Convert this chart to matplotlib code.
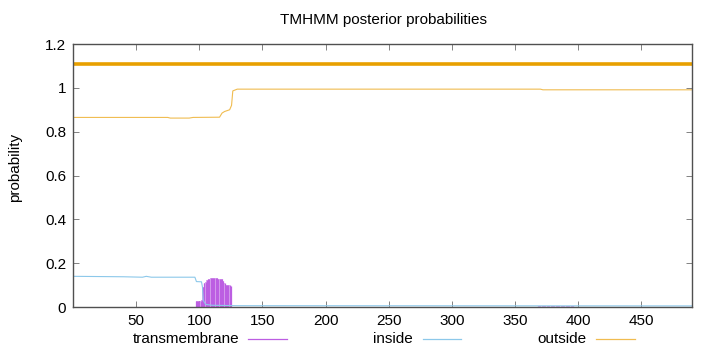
import matplotlib
matplotlib.use("Agg")
import matplotlib.pyplot as plt
from matplotlib.lines import Line2D

plt.rcParams['font.family'] = ['Liberation Sans', 'DejaVu Sans']
plt.rcParams['font.size'] = 11

## sequence length and predicted topology bar
seq_len = 490
topology_level = 1.11

## posterior probability curves (residue, probability)
outside_pos = [1, 75, 77, 92, 95, 116, 118, 120, 124, 125.5, 126.5, 130, 370, 372, 490]
outside_val = [0.865, 0.865, 0.862, 0.862, 0.865, 0.866, 0.885, 0.892, 0.9, 0.92, 0.986, 0.994, 0.994, 0.991, 0.991]

inside_pos = [1, 40, 55, 58, 62, 96.5, 97.7, 101.7, 102.5, 103.2, 105, 110, 130, 490]
inside_val = [0.14, 0.138, 0.136, 0.14, 0.136, 0.136, 0.116, 0.115, 0.09, 0.03, 0.012, 0.008, 0.006, 0.005]

tm_pos = list(range(97, 126))
tm_val = [0.027, 0.027, 0.027, 0.028, 0.028, 0.03, 0.09, 0.108, 0.115, 0.122, 0.127, 0.13, 0.131,
          0.131, 0.131, 0.131, 0.131, 0.131, 0.13, 0.13, 0.129, 0.127, 0.12, 0.11, 0.1, 0.1, 0.1,
          0.099, 0.097]
tm_low_pos = list(range(70, 96)) + list(range(368, 397))
tm_low_val = [0.002] * 26 + [0.004] * 29

c_tm = '#bc5ee2'
c_tm_fill = '#dcaaf0'
c_in = '#8cc8ea'
c_out = '#f0bc50'
c_top = '#e8a000'

fig = plt.figure(figsize=(7.2, 3.52), dpi=100)
ax = fig.add_axes([0.1014, 0.1278, 0.8597, 0.7472])

ax.fill_between(tm_pos, 0, tm_val, step='mid', color=c_tm_fill, lw=0)
ax.vlines(tm_pos, 0, tm_val, color=c_tm, lw=0.9)
ax.vlines(tm_low_pos, 0, tm_low_val, color=c_tm, lw=0.9)
ax.plot(inside_pos, inside_val, color=c_in, lw=0.8)
ax.plot(outside_pos, outside_val, color=c_out, lw=0.8)
ax.plot([1, seq_len], [topology_level, topology_level], color=c_top, lw=2.6, solid_capstyle='butt')

ax.set_xlim(0, seq_len)
ax.set_ylim(0, 1.2)
ax.set_xticks([50, 100, 150, 200, 250, 300, 350, 400, 450])
ax.set_yticks([0, 0.2, 0.4, 0.6, 0.8, 1.0, 1.2])
ax.set_yticklabels(['0', '0.2', '0.4', '0.6', '0.8', '1', '1.2'])
ax.tick_params(direction='in', length=4, width=0.5, color='#505050', top=True, right=True,
               labelsize=11, pad=5)
for s in ax.spines.values():
    s.set_color('#505050')
    s.set_linewidth(1.0)

fig.text(0.532, 0.943, 'TMHMM posterior probabilities', ha='center', va='center', fontsize=11)
fig.text(0.021, 0.525, 'probability', rotation=90, ha='center', va='center', fontsize=11)

## legend below the plot
legend_items = [('transmembrane', c_tm, 239, 248, 287),
                ('inside', c_in, 413, 423, 461),
                ('outside', c_out, 587, 596, 635)]
ly = 1 - 339 / 352
for name, col, tx, x0, x1 in legend_items:
    fig.text(tx / 720, ly, name, ha='right', va='center', fontsize=11)
    fig.add_artist(Line2D([x0 / 720, x1 / 720], [ly, ly], color=col, lw=0.9))

fig.savefig('out.png', dpi=100)
